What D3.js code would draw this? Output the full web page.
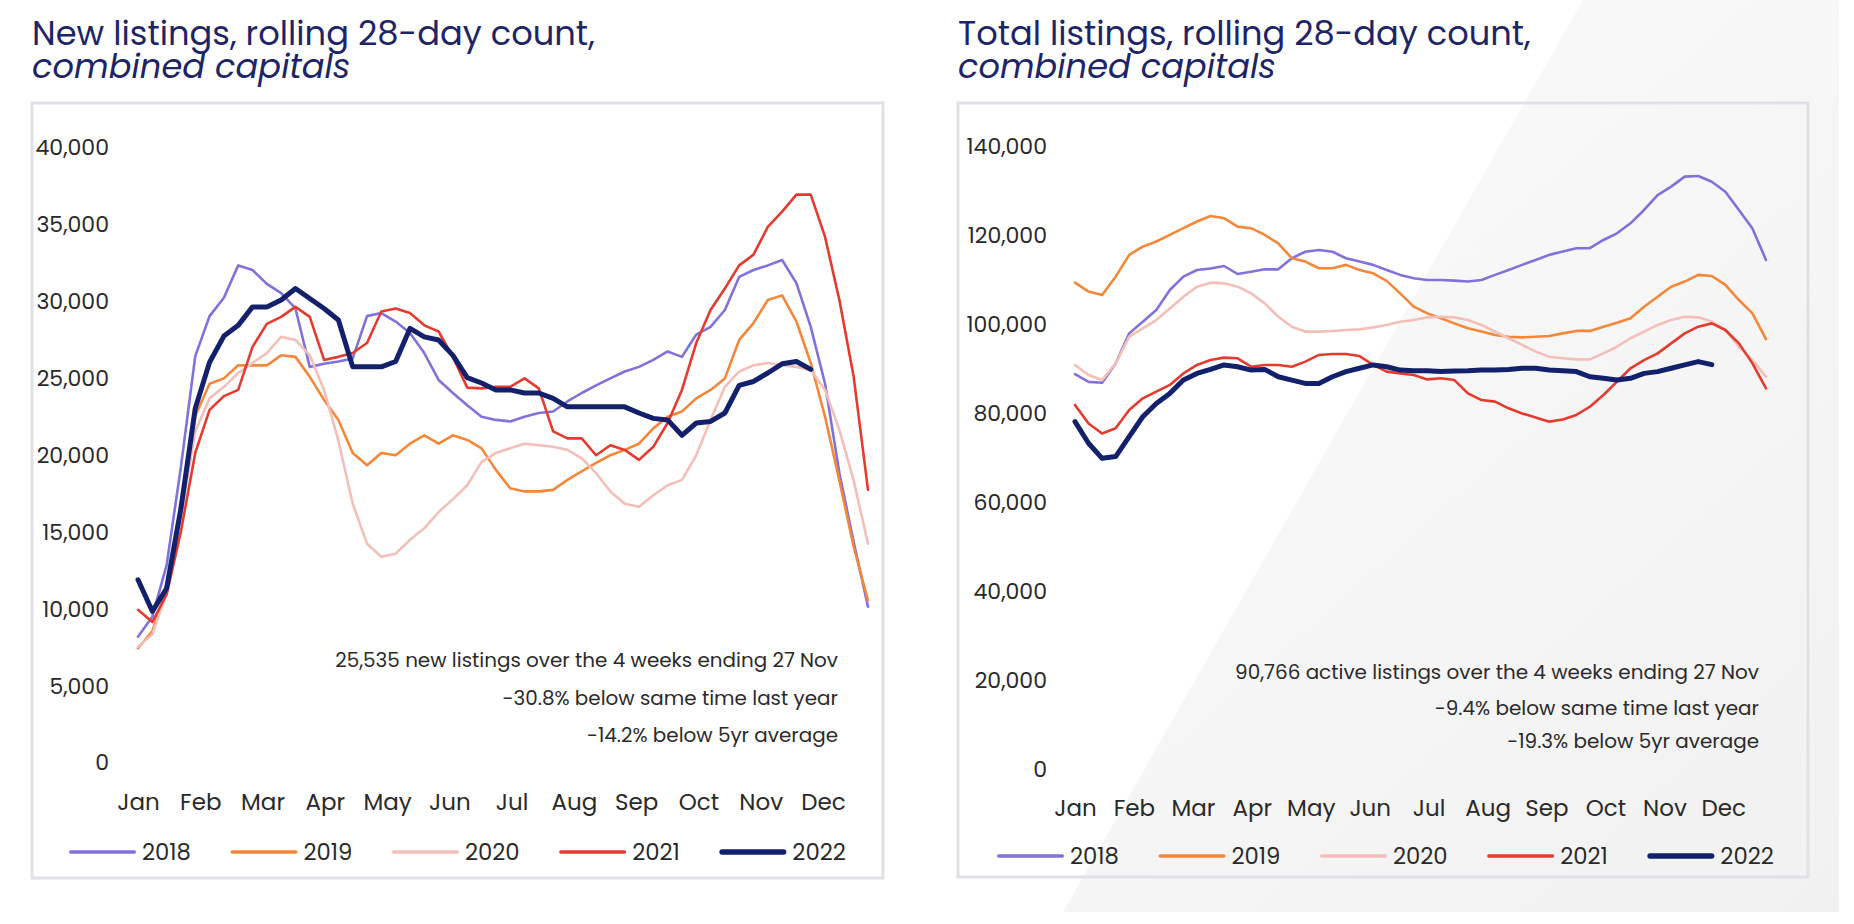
<!DOCTYPE html>
<html><head><meta charset="utf-8">
<script src="https://cdn.jsdelivr.net/npm/d3@7"></script>
<style>
html,body{margin:0;padding:0;background:#fff;}
svg{display:block;}
text{font-family:'Poppins','DejaVu Sans',sans-serif;}
</style></head><body>
<svg id="c" width="1854" height="924"></svg>
<script>
// ---------- data ----------
const years = ["2018","2019","2020","2021","2022"];
const months = ["Jan","Feb","Mar","Apr","May","Jun","Jul","Aug","Sep","Oct","Nov","Dec"];
const monthWeek = [0,4.35,8.7,13.05,17.4,21.75,26.1,30.45,34.8,39.15,43.5,47.85];
const newTicks = [0,5000,10000,15000,20000,25000,30000,35000,40000];
const totalTicks = [0,20000,40000,60000,80000,100000,120000,140000];

const new2018 = [8150,9450,12800,19200,26400,29000,30200,32300,32000,31100,30500,29500,25700,25900,26050,26250,29000,29200,28650,27900,26600,24850,24000,23200,22450,22250,22150,22450,22700,22800,23450,24000,24500,24950,25400,25700,26150,26700,26350,27800,28300,29400,31550,32000,32300,32650,31150,28300,24600,18800,14300,10100];
const new2019 = [7400,8500,11200,16500,22500,24600,24950,25800,25800,25800,26450,26350,25050,23550,22250,20100,19300,20100,19950,20700,21250,20700,21250,20950,20400,19000,17800,17600,17600,17700,18350,18900,19450,19950,20300,20700,21700,22450,22800,23650,24200,24950,27450,28550,30050,30350,28650,25950,22450,18300,14000,10500];
const new2020 = [7500,8300,11000,16000,21500,23650,24400,25300,25950,26600,27650,27450,26450,24200,20900,16800,14200,13350,13550,14450,15200,16250,17100,18000,19500,20100,20400,20700,20600,20500,20300,19750,18800,17600,16800,16600,17350,18000,18350,19950,22250,24400,25400,25800,25950,25800,25700,25500,24200,21600,18300,14200];
const new2021 = [9900,9100,10900,15000,20100,22900,23800,24200,27000,28500,28950,29600,28950,26150,26350,26600,27250,29300,29500,29200,28400,28000,26350,24350,24300,24400,24400,24950,24300,21500,21050,21050,19950,20600,20300,19650,20500,22050,24200,27250,29400,30800,32300,33000,34800,35800,36900,36900,34150,30050,25050,17700];
const new2022 = [11850,9800,11300,16500,23000,26000,27700,28400,29600,29600,30050,30800,30150,29500,28750,25700,25700,25700,26050,28200,27650,27450,26450,25000,24650,24200,24200,24000,24000,23650,23100,23100,23100,23100,23100,22700,22350,22250,21250,22050,22150,22700,24500,24750,25300,25900,26050,25535];

const tot2018 = [88650,86900,86700,91050,97800,100400,103050,107550,110550,112050,112400,112950,111150,111650,112200,112200,114700,116150,116550,116150,114700,113950,113200,112050,110950,110200,109800,109800,109650,109450,109800,110950,112050,113200,114300,115450,116200,116950,116950,118800,120300,122550,125550,128900,130800,133050,133200,131900,129650,125550,121400,114300];
const tot2019 = [109200,107200,106450,110550,115450,117300,118450,119950,121450,122950,124200,123700,121800,121450,119950,118050,114700,113950,112450,112450,113200,112050,111300,109600,106800,103800,102300,101200,100050,98950,98200,97450,97050,96900,97050,97200,97800,98350,98350,99300,100200,101200,103800,106050,108300,109450,110950,110700,108700,105300,102300,96500];
const tot2020 = [90700,88450,87300,91050,97050,98900,100800,103400,106050,108300,109200,109050,108300,106800,104550,101550,99300,98200,98200,98350,98550,98700,99150,99700,100400,100800,101400,101550,101400,100800,99700,98200,96700,95200,93700,92550,92200,91950,91950,93300,94800,96700,98200,99700,100800,101550,101400,100450,98550,94800,91800,88050];
const tot2021 = [81700,77550,75300,76450,80550,83200,84700,86200,88800,90700,91800,92350,92200,90300,90700,90700,90300,91450,92950,93150,93150,92700,90700,89200,88800,88450,87450,87700,87300,84300,82800,82450,80950,79800,78900,77950,78450,79450,81300,83950,86950,89950,91800,93300,95550,97800,99300,100050,98550,95550,91050,85450];
const tot2022 = [77950,73100,69700,70100,74600,79050,82050,84300,87300,88800,89700,90700,90300,89550,89700,88050,87300,86550,86550,88050,89200,89950,90700,90300,89550,89400,89400,89200,89350,89400,89550,89550,89700,89950,89950,89550,89400,89200,88050,87700,87300,87700,88800,89200,89950,90700,91450,90766];

const titleNew = ["New listings, rolling 28-day count,", "combined capitals"];
const titleTot = ["Total listings, rolling 28-day count,", "combined capitals"];
const noteNew = ["25,535 new listings over the 4 weeks ending 27 Nov","-30.8% below same time last year","-14.2% below 5yr average"];
const noteTot = ["90,766 active listings over the 4 weeks ending 27 Nov","-9.4% below same time last year","-19.3% below 5yr average"];

// ---------- styles ----------
const colors = {"2018":"#7f73db","2019":"#f5873b","2020":"#f3bfb8","2021":"#e53b2f","2022":"#13206b"};
const widths = {"2018":2.6,"2019":2.6,"2020":2.6,"2021":2.6,"2022":5};
const ink = "#2a2a2a", navy = "#1d2566";

const svg = d3.select("#c");
const defs = svg.append("defs");
const g1 = defs.append("linearGradient").attr("id","bg").attr("gradientUnits","userSpaceOnUse")
  .attr("x1",1300).attr("y1",300).attr("x2",1839).attr("y2",912);
g1.append("stop").attr("offset","0").attr("stop-color","#f8f8f8");
g1.append("stop").attr("offset","1").attr("stop-color","#f1f1f1");

// background wedge (image area ends at 1839 x 912)
svg.append("path").attr("d","M1583,0 L1839,0 L1839,912 L1063,912 Z").attr("fill","url(#bg)");

// fit font-size so that text reaches a target width
function fitSize(sel, target){
  sel.attr("font-size",20);
  const L = sel.node().getComputedTextLength();
  const fs = 20*target/L;
  sel.attr("font-size",fs);
  return fs;
}

function panel(cfg){
  const x = d3.scaleLinear().domain([0,51]).range(cfg.xr);
  const y = d3.scaleLinear().domain(cfg.yd).range(cfg.yr);
  svg.append("rect").attr("x",cfg.box[0]).attr("y",cfg.box[1]).attr("width",cfg.box[2]).attr("height",cfg.box[3])
    .attr("fill","none").attr("stroke","#e0e1e6").attr("stroke-width",3);
  // titles
  const t1 = svg.append("text").attr("x",cfg.tx).attr("y",45).attr("fill",navy).text(cfg.title[0]);
  const tfs = fitSize(t1, cfg.tw);
  svg.append("text").attr("x",cfg.tx).attr("y",78).attr("fill",navy).attr("font-size",tfs)
    .attr("font-style","italic").text(cfg.title[1]);
  // y axis
  const ya = svg.append("g").attr("transform",`translate(${cfg.ylx},0)`)
    .call(d3.axisLeft(y).tickValues(cfg.ticks).tickSize(0).tickPadding(0).tickFormat(d3.format(",")));
  ya.select(".domain").remove();
  ya.selectAll("text").attr("font-size",22).attr("fill",ink).attr("dy","0.36em").style("font-family","'Poppins','DejaVu Sans',sans-serif");
  // x axis
  const xa = svg.append("g").attr("transform",`translate(0,${cfg.xly})`)
    .call(d3.axisBottom(x).tickValues(monthWeek).tickSize(0).tickPadding(0).tickFormat((d,i)=>months[i]));
  xa.select(".domain").remove();
  xa.selectAll("text").attr("font-size",23).attr("fill",ink).attr("dy","0").style("font-family","'Poppins','DejaVu Sans',sans-serif");
  // lines
  const line = d3.line().x((d,i)=>x(i)).y(d=>y(d)).curve(d3.curveLinear);
  cfg.series.forEach((s,k)=>{
    svg.append("path").datum(s).attr("d",line).attr("fill","none")
      .attr("stroke",colors[years[k]]).attr("stroke-width",widths[years[k]])
      .attr("stroke-linejoin","round").attr("stroke-linecap","round");
  });
  // notes
  let nfs = null;
  cfg.notes.forEach((n,i)=>{
    const t = svg.append("text").attr("x",cfg.nr).attr("y",cfg.ny[i]).attr("fill",ink)
      .attr("text-anchor","end").text(n);
    if(i===0){ nfs = fitSize(t, cfg.nw); } else { t.attr("font-size",nfs); }
  });
  // legend
  let lx = cfg.lx;
  const probe = svg.append("text").text("2018");
  const lfs = fitSize(probe, 49); probe.remove();
  years.forEach(yr=>{
    const sw = yr==="2022"?5.5:3.3;
    svg.append("line").attr("x1",lx+sw/2).attr("x2",lx+67-sw/2).attr("y1",cfg.ly).attr("y2",cfg.ly)
      .attr("stroke",colors[yr]).attr("stroke-width",sw).attr("stroke-linecap","round");
    const t = svg.append("text").attr("x",lx+73).attr("y",cfg.ly+7.5).attr("font-size",lfs).attr("fill",ink).text(yr);
    lx = lx + 73 + t.node().getComputedTextLength() + 39.5;
  });
}

panel({xr:[138,868], yd:[0,40000], yr:[762,147], box:[32,103,851,775], tx:32, tw:563,
  title:titleNew, ylx:109, ticks:newTicks, xly:810,
  series:[new2018,new2019,new2020,new2021,new2022],
  notes:noteNew, nr:838, nw:503, ny:[667,705,742], lx:69, ly:852});
panel({xr:[1075,1766], yd:[0,140000], yr:[768.3,145.7], box:[958,103,850,774], tx:958, tw:573,
  title:titleTot, ylx:1047, ticks:totalTicks, xly:816,
  series:[tot2018,tot2019,tot2020,tot2021,tot2022],
  notes:noteTot, nr:1759, nw:524, ny:[679,715,748], lx:997, ly:856});
</script>
</body></html>
